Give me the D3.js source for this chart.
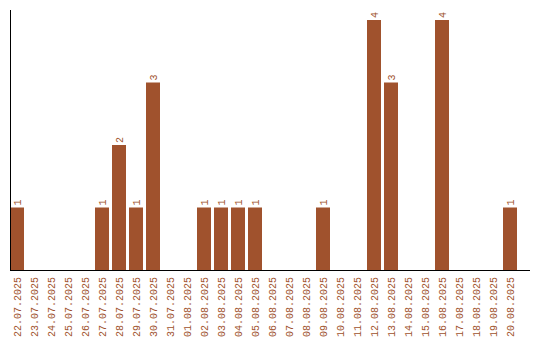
<!DOCTYPE html>
<html>
<head>
<meta charset="utf-8">
<script src="https://cdn.jsdelivr.net/npm/d3@7"></script>
<style>
  body { margin: 0; background: #fff; }
  text { font-family: "Liberation Mono", monospace; font-size: 10px; fill: #a0522d; }
</style>
</head>
<body>
<div id="chart"></div>
<script>
// dates shown on the x axis
const dates = ["22.07.2025", "23.07.2025", "24.07.2025", "25.07.2025", "26.07.2025",
    "27.07.2025", "28.07.2025", "29.07.2025", "30.07.2025", "31.07.2025",
    "01.08.2025", "02.08.2025", "03.08.2025", "04.08.2025", "05.08.2025",
    "06.08.2025", "07.08.2025", "08.08.2025", "09.08.2025", "10.08.2025",
    "11.08.2025", "12.08.2025", "13.08.2025", "14.08.2025", "15.08.2025",
    "16.08.2025", "17.08.2025", "18.08.2025", "19.08.2025", "20.08.2025"];

// counts per day
const counts = [1, 0, 0, 0, 0, 1, 2, 1, 3, 0,
    0, 1, 1, 1, 1, 0, 0, 0, 1, 0,
    0, 4, 3, 0, 0, 4, 0, 0, 0, 1];

const width = 540, height = 340;
const barColor = "#a0522d";

const svg = d3.select("#chart").append("svg")
    .attr("width", width)
    .attr("height", height);

const x = d3.scaleBand()
    .domain(dates)
    .range([10, 517])
    .paddingInner(3 / 17)
    .paddingOuter(0);

const y = d3.scaleLinear()
    .domain([0, 4])
    .range([270, 20]);

const barData = dates.map((d, i) => ({date: d, value: counts[i]})).filter(d => d.value > 0);

// bars
svg.selectAll("rect.bar")
    .data(barData)
    .enter()
    .append("rect")
    .attr("class", "bar")
    .attr("x", d => x(d.date))
    .attr("y", d => y(d.value))
    .attr("width", x.bandwidth())
    .attr("height", d => y(0) - y(d.value))
    .attr("fill", barColor);

// value labels
svg.selectAll("text.val")
    .data(barData)
    .enter()
    .append("text")
    .attr("class", "val")
    .attr("transform", d => `translate(${x(d.date) + x.bandwidth() / 2}, ${y(d.value) - 2}) rotate(-90)`)
    .attr("dy", "0.35em")
    .attr("text-anchor", "start")
    .text(d => d.value);

// x axis
const xAxis = svg.append("g")
    .attr("transform", `translate(0, ${y(0)})`)
    .call(d3.axisBottom(x).tickSize(0).tickPadding(0));

xAxis.select(".domain").remove();
xAxis.selectAll("text")
    .attr("transform", "rotate(-90)")
    .attr("text-anchor", "end")
    .attr("x", -7)
    .attr("y", 0)
    .attr("dy", "0.35em")
    .attr("fill", barColor)
    .style("font-family", "Liberation Mono, monospace")
    .style("font-size", "10px");

// axis lines
svg.append("line")
    .attr("x1", 10).attr("x2", 530)
    .attr("y1", y(0) + 0.5).attr("y2", y(0) + 0.5)
    .attr("stroke", "#000");

svg.append("line")
    .attr("x1", 10.5).attr("x2", 10.5)
    .attr("y1", 10).attr("y2", y(0))
    .attr("stroke", "#000");
</script>
</body>
</html>
